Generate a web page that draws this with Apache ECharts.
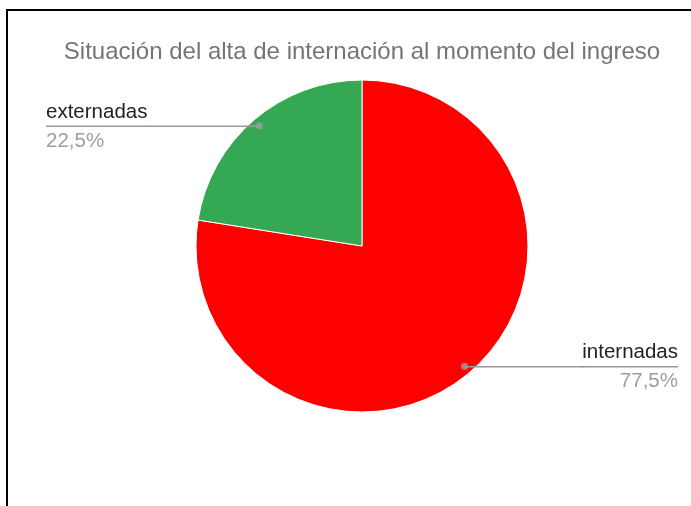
<!DOCTYPE html>
<html><head><meta charset="utf-8">
<script src="https://cdn.jsdelivr.net/npm/echarts@6/dist/echarts.min.js"></script>
<style>html,body{margin:0;padding:0;background:#fff}#c{width:691px;height:506px}</style>
</head><body><div id="c"></div>
<script>
const titleText = 'Situación del alta de internación al momento del ingreso';
const categories = ['internadas', 'externadas'];
const values = [77.5, 22.5];
const colors = ['#ff0000', '#34a853'];

const FONT = '"Liberation Sans", Arial, sans-serif';
const CX = 362, CY = 246, R = 166, R_ANCHOR = 158;
const edgeDist = [13, 46];

const total = values.reduce((a, b) => a + b, 0);
const mids = [];
let acc = 0;
values.forEach(v => { const p = v / total * 100; mids.push(acc + p / 2); acc += p; });

const fmtPct = p => p.toFixed(1).replace('.', ',') + '%';

const chart = echarts.init(document.getElementById('c'), null, {renderer: 'canvas'});
chart.setOption({
  animation: false,
  backgroundColor: '#fff',
  graphic: [{
    type: 'rect', shape: {x: 7, y: 10, width: 720, height: 540},
    style: {fill: 'none', stroke: '#000', lineWidth: 2}, silent: true, z: 100
  }],
  title: {
    text: titleText, left: CX, top: 40, padding: 0, textAlign: 'center',
    textStyle: {fontFamily: FONT, fontSize: 24, fontWeight: 'normal', color: '#757575'}
  },
  polar: {center: [CX, CY], radius: R},
  angleAxis: {type: 'value', min: 0, max: 100, startAngle: 90, clockwise: true, show: false,
    axisLine: {show: false}, splitLine: {show: false}, axisLabel: {show: false}, axisTick: {show: false}},
  radiusAxis: {type: 'value', min: 0, max: R, show: false,
    axisLine: {show: false}, splitLine: {show: false}, axisLabel: {show: false}, axisTick: {show: false}},
  series: [
    {
      type: 'pie', center: [CX, CY], radius: R, startAngle: 90, clockwise: true,
      silent: true,
      label: {show: false}, labelLine: {show: false},
      itemStyle: {borderColor: '#fff', borderWidth: 1},
      data: categories.map((n, i) => ({name: n, value: values[i], itemStyle: {color: colors[i]}}))
    },
    {
      type: 'pie', center: [CX, CY + 0.5], radius: R_ANCHOR, startAngle: 90, clockwise: true,
      silent: true, z: 3,
      itemStyle: {color: 'rgba(0,0,0,0)', borderWidth: 0},
      label: {
        show: true, position: 'outside', alignTo: 'edge', distanceToLabelLine: -4,
        formatter: p => `{n|${p.name}}\n{hr|}\n{p|${fmtPct(p.percent)}}`,
        rich: {
          n: {fontFamily: FONT, fontSize: 20.5, color: '#222222', lineHeight: 29},
          hr: {width: '100%', height: 0, lineHeight: 0, borderWidth: 1.5, borderColor: '#999999'},
          p: {fontFamily: FONT, fontSize: 20.5, color: '#9e9e9e', lineHeight: 29}
        }
      },
      labelLine: {show: true, length: 0, length2: 10, smooth: false,
        lineStyle: {color: '#999999', width: 1.5}},
      data: categories.map((n, i) => ({name: n, value: values[i], label: {edgeDistance: edgeDist[i]}}))
    },
    {
      type: 'scatter', coordinateSystem: 'polar', silent: true, z: 5,
      symbol: 'circle', symbolSize: 7,
      itemStyle: {color: '#9e9e9e'},
      data: mids.map(m => [R_ANCHOR, m])
    }
  ]
});
</script>
</body></html>
